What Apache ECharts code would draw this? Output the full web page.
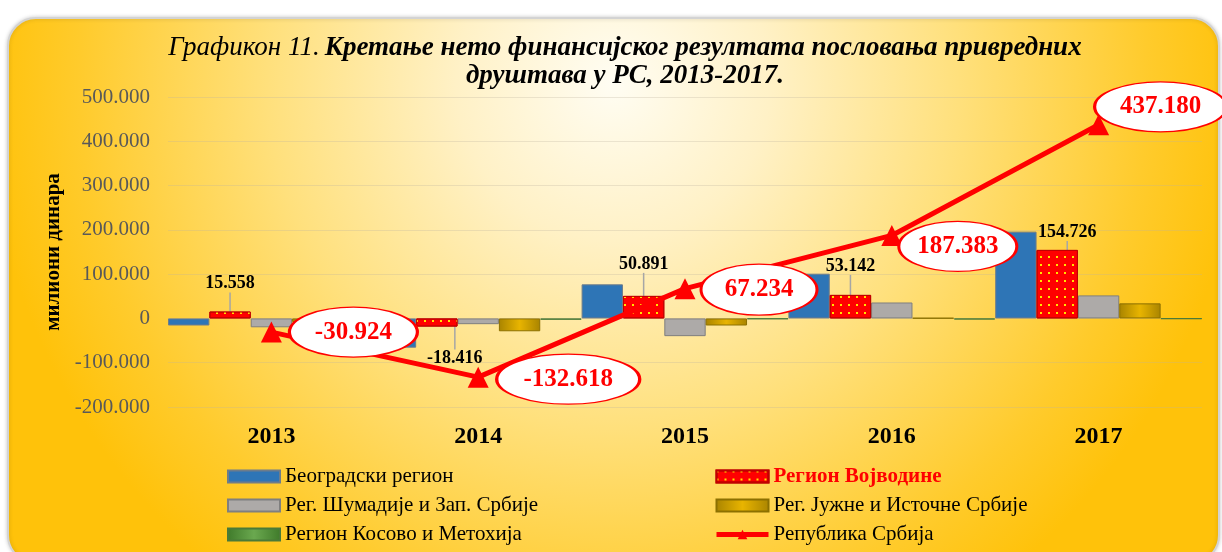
<!DOCTYPE html>
<html>
<head>
<meta charset="utf-8">
<script src="https://cdn.jsdelivr.net/npm/echarts@6/dist/echarts.min.js"></script>
<style>
  html, body { margin: 0; padding: 0; background: #fff; }
  #chart { width: 1222px; height: 552px; }
</style>
</head>
<body>
<div id="chart"></div>
<script>
var years = ['2013', '2014', '2015', '2016', '2017'];
var beograd = [-16000, -66000, 77000, 101000, 196000];
var vojvodina = [15558, -18416, 50891, 53142, 154726];
var sumadija = [-20000, -13000, -40000, 36000, 52000];
var jug = [-8000, -29000, -16000, 1000, 34000];
var kosovo = [-2000, -3000, -1500, -2500, -1000];
var srbija = [-30924, -132618, 67234, 187383, 437180];
var yTicks = { min: -200000, max: 500000, step: 100000 };

// where the ellipse labels sit relative to the points (pixels)
var ellipseOffset = [[82, 0], [90, 2], [74, 1], [66, 11], [62, -18]];
var ellipseSize = [[128, 50], [143, 50], [116, 51], [118, 50], [132, 50]];
// nudges for the red bar labels
var redLabelMove = [[0, -14], [18, 20], [0, -18], [0, -15], [10, -4]];

var serif = '"Liberation Serif", "Times New Roman", serif';

function fmt(v) {
    var s = String(Math.abs(Math.round(v))).replace(/\B(?=(\d{3})+(?!\d))/g, '.');
    return (v < 0 ? '-' : '') + s;
}

function hGrad(a, b) {
    return new echarts.graphic.LinearGradient(0, 0, 1, 0, [
        { offset: 0, color: a }, { offset: 0.5, color: b }, { offset: 1, color: a }
    ]);
}

var myChart = echarts.init(document.getElementById('chart'));

var ellipse = 'path://M0,50 A100,50 0 1,1 200,50 A100,50 0 1,1 0,50 Z';

var legendText = { fontFamily: serif, fontSize: 21, color: '#000' };

var option = {
    animation: false,
    graphic: [{
        type: 'rect',
        z: -10,
        silent: true,
        shape: { x: 8, y: 18, width: 1211, height: 545, r: 28 },
        style: {
            fill: new echarts.graphic.RadialGradient(0.5, 0.12, 1.15, [
                { offset: 0, color: '#FFFDF3' },
                { offset: 0.25, color: '#FFF1C6' },
                { offset: 0.55, color: '#FFE07C' },
                { offset: 0.85, color: '#FFCB2C' },
                { offset: 1, color: '#FFC20A' }
            ]),
            stroke: '#D3D3D3',
            lineWidth: 2,
            shadowBlur: 4,
            shadowColor: 'rgba(0,0,0,0.18)'
        }
    }],
    title: {
        left: 620,
        top: 29,
        textAlign: 'center',
        text: '{a|Графикон 11.} {b|Кретање нето финансијског резултата пословања привредних}\n{b|друштава у РС, 2013-2017.}',
        textStyle: {
            rich: {
                a: { fontFamily: serif, fontStyle: 'italic', fontWeight: 'normal', fontSize: 27, color: '#000', lineHeight: 28 },
                b: { fontFamily: serif, fontStyle: 'italic', fontWeight: 'bold', fontSize: 27, color: '#000', lineHeight: 28 }
            }
        }
    },
    grid: { left: 168, right: 20, top: 97, bottom: 145 },
    legend: [{
        orient: 'vertical',
        left: 222,
        top: 461,
        icon: 'rect',
        itemWidth: 52,
        itemHeight: 12,
        itemGap: 8,
        textStyle: legendText,
        data: ['Београдски регион', 'Рег. Шумадије и Зап. Србије', 'Регион Косово и Метохија']
    }, {
        orient: 'vertical',
        left: 709,
        top: 461,
        itemWidth: 52,
        itemHeight: 12,
        itemGap: 8,
        textStyle: legendText,
        lineStyle: { width: 5 },
        data: [
            { name: 'Регион Војводине', icon: 'rect', textStyle: { color: '#FF0000', fontWeight: 'bold' } },
            { name: 'Рег. Јужне и Источне Србије', icon: 'rect' },
            'Република Србија'
        ]
    }],
    xAxis: {
        type: 'category',
        data: years,
        axisLine: { show: false, onZero: false },
        axisTick: { show: false },
        axisLabel: { fontFamily: serif, fontWeight: 'bold', fontSize: 24, color: '#000', margin: 18 }
    },
    yAxis: {
        type: 'value',
        min: yTicks.min,
        max: yTicks.max,
        interval: yTicks.step,
        name: 'милиони динара',
        nameLocation: 'middle',
        nameGap: 101,
        nameTextStyle: { fontFamily: serif, fontWeight: 'bold', fontSize: 21, color: '#000' },
        axisLine: { show: false },
        axisTick: { show: false },
        axisLabel: { fontFamily: serif, fontSize: 21, color: '#595959', margin: 18, formatter: fmt },
        splitLine: { lineStyle: { color: 'rgba(190,180,160,0.3)', width: 1 } }
    },
    series: [{
        name: 'Београдски регион',
        type: 'bar',
        data: beograd,
        barGap: '0%',
        barCategoryGap: '0%',
        itemStyle: { color: '#2E75B6', borderColor: '#6E7C8A', borderWidth: 1 }
    }, {
        name: 'Регион Војводине',
        type: 'bar',
        data: vojvodina,
        itemStyle: {
            color: '#FF0000',
            borderColor: '#C00000',
            borderWidth: 1,
            decal: { symbol: 'rect', symbolSize: 1, color: '#FFE600', dashArrayX: [2, 6], dashArrayY: [2, 6] }
        },
        label: {
            show: true,
            position: 'top',
            formatter: function (p) { return fmt(p.value); },
            fontFamily: serif,
            fontWeight: 'bold',
            fontSize: 18,
            color: '#000'
        },
        labelLayout: function (p) {
            var m = redLabelMove[p.dataIndex];
            if (vojvodina[p.dataIndex] < 0) {
                return { dx: m[0], dy: m[1] + 34 };
            }
            return { dx: m[0], dy: m[1] };
        },
        labelLine: { show: true, lineStyle: { color: '#A6A6A6', width: 1.5 } },
        z: 3
    }, {
        name: 'Рег. Шумадије и Зап. Србије',
        type: 'bar',
        data: sumadija,
        itemStyle: { color: '#ADAAA8', borderColor: '#7F7F7F', borderWidth: 1 }
    }, {
        name: 'Рег. Јужне и Источне Србије',
        type: 'bar',
        data: jug,
        itemStyle: { color: hGrad('#A98400', '#E8B400'), borderColor: '#8C7000', borderWidth: 1 }
    }, {
        name: 'Регион Косово и Метохија',
        type: 'bar',
        data: kosovo,
        itemStyle: { color: hGrad('#3F7A2A', '#6AA84F'), borderColor: '#4A7A38', borderWidth: 1 }
    }, {
        name: 'Република Србија',
        type: 'line',
        data: srbija,
        symbol: 'triangle',
        symbolSize: 21,
        lineStyle: { color: '#FF0000', width: 5 },
        itemStyle: { color: '#FF0000' },
        z: 5
    }, {
        name: 'labels',
        type: 'scatter',
        data: srbija.map(function (v, i) {
            return { value: v, symbolOffset: ellipseOffset[i], symbolSize: ellipseSize[i] };
        }),
        symbol: ellipse,
        itemStyle: { color: '#FFFFFF', borderColor: '#FF0000', borderWidth: 2, opacity: 1 },
        label: {
            show: true,
            position: 'inside',
            formatter: function (p) { return fmt(p.value); },
            fontFamily: serif,
            fontWeight: 'bold',
            fontSize: 25,
            color: '#FF0000'
        },
        emphasis: { disabled: true },
        z: 6
    }]
};

myChart.setOption(option);
</script>
</body>
</html>
